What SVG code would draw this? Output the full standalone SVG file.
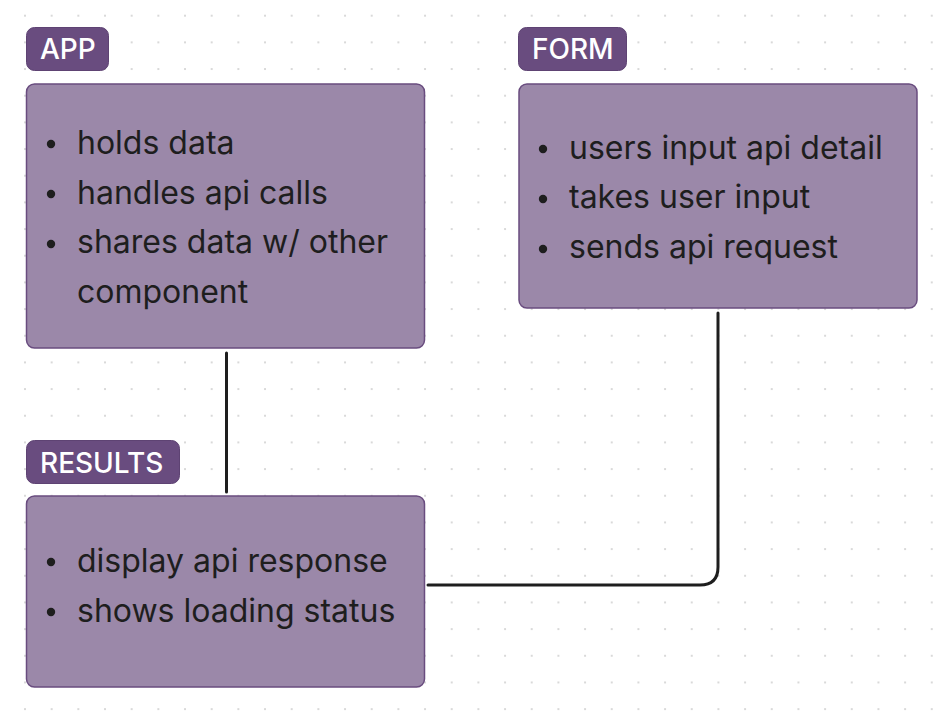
<svg xmlns="http://www.w3.org/2000/svg" width="942" height="720" viewBox="0 0 942 720">
<defs>
<pattern id="dots" x="25" y="15.7" width="26.67" height="26.67" patternUnits="userSpaceOnUse">
<circle cx="0" cy="0" r="1" fill="#cccccc"/>
<circle cx="26.67" cy="0" r="1" fill="#cccccc"/>
<circle cx="0" cy="26.67" r="1" fill="#cccccc"/>
<circle cx="26.67" cy="26.67" r="1" fill="#cccccc"/>
</pattern>
</defs>
<style>
.tag{fill:#694c7f;stroke:#5e4373;stroke-width:1}
.tagt{fill:#ffffff;font-family:Inter,"Liberation Sans",sans-serif;font-size:28px;font-weight:500}
.box{fill:#9b88a9;stroke:#694c7f;stroke-width:1.5}
.li{fill:#1e1e1e;font-family:Inter,"Liberation Sans",sans-serif;font-size:32px}
.dot{fill:#1e1e1e}
.conn{fill:none;stroke:#1e1e1e;stroke-width:3;stroke-linecap:round}
</style>
<rect width="942" height="720" fill="#ffffff"/>
<rect width="942" height="720" fill="url(#dots)"/>
<g id="connectors">
<path class="conn" d="M226.5,353 V492"/>
<path class="conn" d="M428,585 H700 Q718,585 718,567 V313"/>
</g>
<g id="app">
<rect class="tag" x="26.5" y="27.5" width="82" height="43" rx="8"/>
<text class="tagt" x="40" y="59">APP</text>
<rect class="box" x="26.5" y="84" width="398" height="264" rx="8"/>
<circle class="dot" cx="51" cy="144" r="4.2"/>
<circle class="dot" cx="51" cy="194" r="4.2"/>
<circle class="dot" cx="51" cy="244" r="4.2"/>
<text class="li" x="77" y="154">holds data</text>
<text class="li" x="77" y="204">handles api calls</text>
<text class="li" x="77" y="253">shares data w/ other</text>
<text class="li" x="77" y="303">component</text>
</g>
<g id="form">
<rect class="tag" x="518.5" y="27.5" width="108" height="43" rx="8"/>
<text class="tagt" x="532" y="59">FORM</text>
<rect class="box" x="519" y="84" width="398" height="224" rx="8"/>
<circle class="dot" cx="543" cy="149" r="4.2"/>
<circle class="dot" cx="543" cy="199" r="4.2"/>
<circle class="dot" cx="543" cy="249" r="4.2"/>
<text class="li" x="569" y="159">users input api detail</text>
<text class="li" x="569" y="208">takes user input</text>
<text class="li" x="569" y="258">sends api request</text>
</g>
<g id="results">
<rect class="tag" x="26.5" y="440.5" width="153" height="43" rx="8"/>
<text class="tagt" x="40" y="473">RESULTS</text>
<rect class="box" x="26.5" y="496" width="398" height="191" rx="8"/>
<circle class="dot" cx="51" cy="562" r="4.2"/>
<circle class="dot" cx="51" cy="612" r="4.2"/>
<text class="li" x="77" y="572">display api response</text>
<text class="li" x="77" y="622">shows loading status</text>
</g>
</svg>
